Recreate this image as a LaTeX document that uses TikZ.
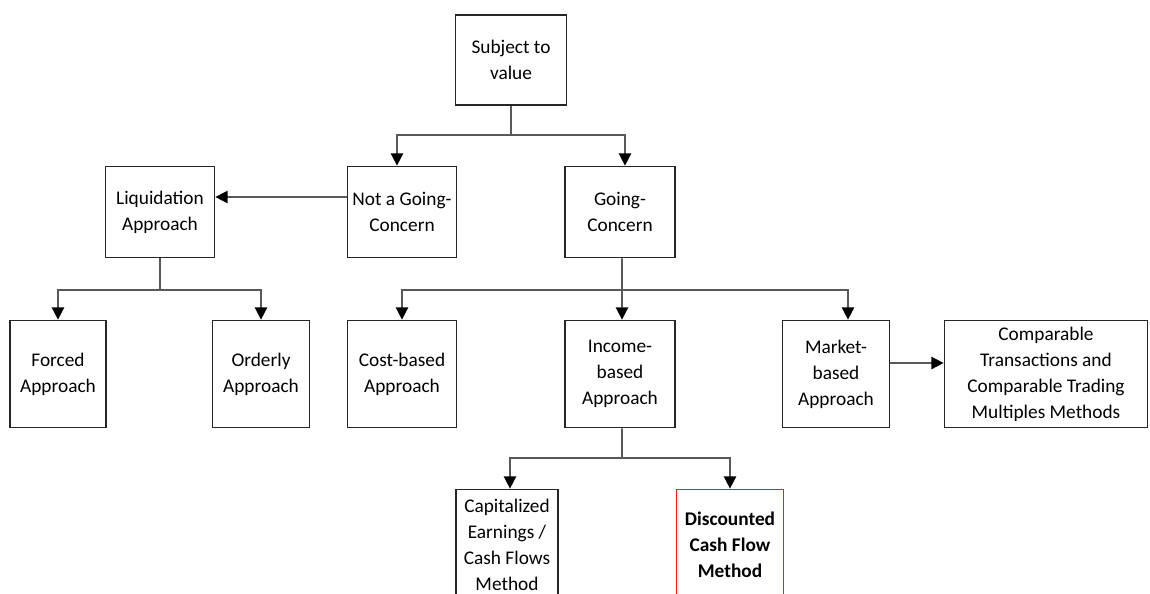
\documentclass[tikz,border=0pt]{standalone}
\usepackage{fontspec}
\setmainfont{Carlito}
\usetikzlibrary{arrows.meta}
\newcommand{\TreeFont}{\fontsize{11}{14.8}\selectfont}

\begin{document}
\begin{tikzpicture}[x=0.02cm,y=-0.02cm,
  box/.style={draw=black!85, line width=1pt, align=center, inner sep=1pt, font=\TreeFont},
  link/.style={draw=black!65, line width=0.9pt},
  arr/.style={link, -{Triangle[length=7pt,width=7pt,black]}}]
\clip (0,0) rectangle (1150,593);

% boxes
\node[box, minimum width=2.22cm, minimum height=1.8cm] (subject) at (511,60) {Subject to\\value};
\node[box, minimum width=2.18cm, minimum height=1.82cm] (notgc) at (402,212) {Not a Going-\\Concern};
\node[box, minimum width=2.2cm, minimum height=1.82cm] (gc) at (620,212) {Going-\\Concern};
\node[box, minimum width=2.18cm, minimum height=1.82cm] (liq) at (160,212) {Liquidation\\Approach};
\node[box, minimum width=1.92cm, minimum height=2.14cm] (forced) at (58,374) {Forced\\Approach};
\node[box, minimum width=1.94cm, minimum height=2.14cm] (orderly) at (261,374) {Orderly\\Approach};
\node[box, minimum width=2.18cm, minimum height=2.14cm] (cost) at (402,374) {Cost-based\\Approach};
\node[box, minimum width=2.2cm, minimum height=2.14cm] (income) at (620,374) {Income-\\based\\Approach};
\node[box, minimum width=2.14cm, minimum height=2.14cm] (market) at (836,374) {Market-\\based\\Approach};
\node[box, minimum width=4.06cm, minimum height=2.14cm] (comp) at (1046,374) {Comparable\\Transactions and\\Comparable Trading\\Multiples Methods};
\node[box, minimum width=2.04cm, minimum height=2.22cm] (capital) at (507,545) {Capitalized\\Earnings /\\Cash Flows\\Method};
\node[box, draw=red!90, minimum width=2.14cm, minimum height=2.22cm, font=\TreeFont\bfseries] (dcf) at (730,545) {Discounted\\Cash Flow\\Method};

% split points
\coordinate (top) at (511,135);
\coordinate (liqsplit) at (160,290);
\coordinate (gcsplit) at (622,290);
\coordinate (incsplit) at (622,458);

% connectors
\draw[link] (subject) -- (top);
\draw[arr] (top) -| ([xshift=-0.1cm]notgc.north);
\draw[arr] (top) -| ([xshift=0.1cm]gc.north);
\draw[arr] ([yshift=0.3cm]notgc.west) -- ([yshift=0.3cm]liq.east);
\draw[link] (liq) -- (liqsplit);
\draw[arr] (liqsplit) -| (forced);
\draw[arr] (liqsplit) -| (orderly);
\draw[link] ([xshift=0.04cm]gc.south) -- (gcsplit);
\draw[arr] (gcsplit) -| (cost);
\draw[arr] (gcsplit) -- ([xshift=0.04cm]income.north);
\draw[arr] (gcsplit) -| ([xshift=0.24cm]market.north);
\draw[arr] ([yshift=0.22cm]market.east) -- ([yshift=0.22cm]comp.west);
\draw[link] ([xshift=0.04cm]income.south) -- (incsplit);
\draw[arr] (incsplit) -| ([xshift=0.06cm]capital.north);
\draw[arr] (incsplit) -| (dcf);
\end{tikzpicture}
\end{document}
